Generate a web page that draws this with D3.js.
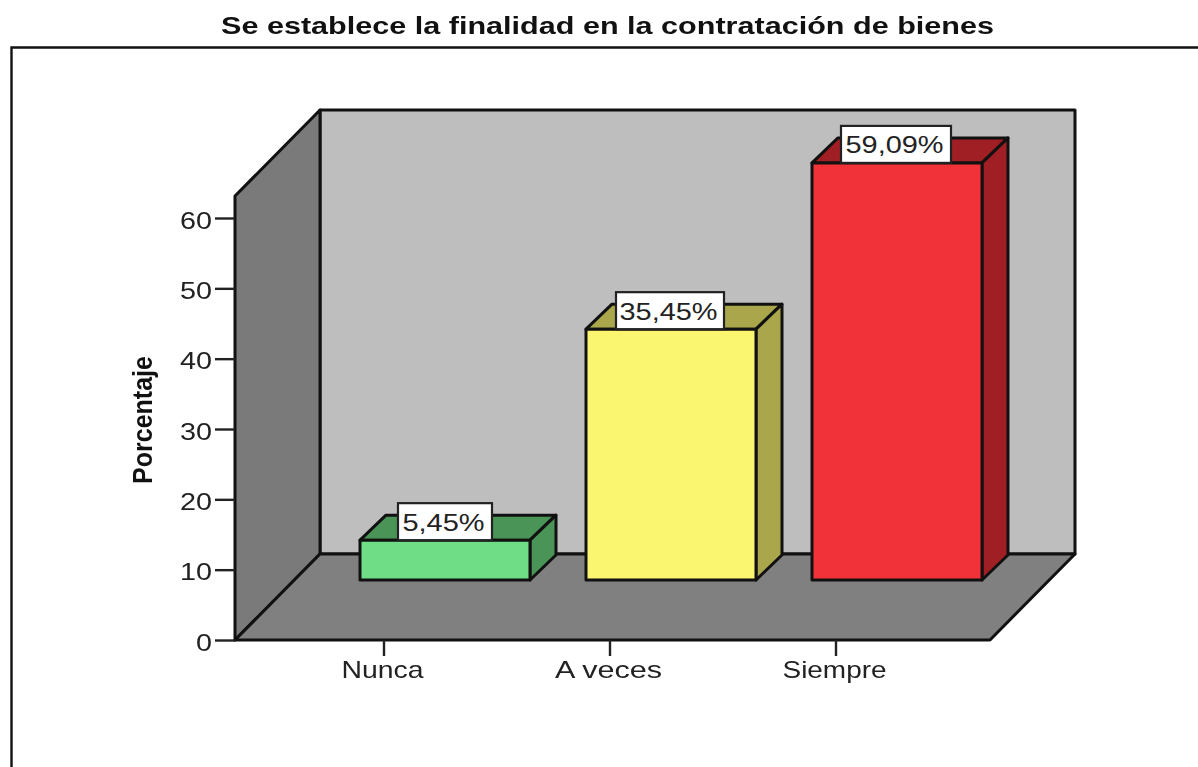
<!DOCTYPE html>
<html><head><meta charset="utf-8">
<script src="https://cdn.jsdelivr.net/npm/d3@7/dist/d3.min.js"></script>
<style>html,body{margin:0;padding:0;background:#fff;overflow:hidden}svg{display:block;filter:blur(0.5px)}text{font-family:"Liberation Sans",Arial,sans-serif;fill:#222}</style>
</head><body><svg id="c" width="1198" height="767"></svg>
<script>
const categories = ["Nunca","A veces","Siempre"];
const values = [5.45,35.45,59.09];
const valueLabels = ["5,45%","35,45%","59,09%"];
const frontColors = ["#6fdd85","#fbf66f","#f23239"];
const sideColors = ["#4a9458","#a9a64c","#a01f24"];
const yTicks = [0,10,20,30,40,50,60];
const titleText = "Se establece la finalidad en la contratación de bienes";
const yTitle = "Porcentaje";

const svg = d3.select("#c");
const fit = (sel, w) => sel.attr("textLength", w).attr("lengthAdjust", "spacingAndGlyphs");

// outer frame
svg.append("path").attr("d","M11.5,767V47.5H1198").attr("fill","none").attr("stroke","#111").attr("stroke-width",2.4);

fit(svg.append("text").attr("x",607.5).attr("y",34).attr("text-anchor","middle")
  .attr("font-size",24).attr("font-weight","bold").style("fill","#111").text(titleText),773);

const y = d3.scaleLinear().domain([0,60]).range([640,218]);
const x = d3.scaleBand().domain(categories).range([271,949]);
const wallL=235,wallR=990,dx=85,dy=86,wallT=196;
const lineSt = {stroke:"#111","stroke-width":3,"stroke-linejoin":"round"};
const poly=(pts,fill,st=lineSt)=>{const p=svg.append("polygon").attr("points",pts.map(d=>d.join(",")).join(" ")).attr("fill",fill);
  for(const k in st)p.attr(k,st[k]);return p;};

poly([[wallL+dx,wallT-dy],[wallR+dx,wallT-dy],[wallR+dx,y(0)-dy],[wallL+dx,y(0)-dy]],"#bebebe");
poly([[wallL,wallT],[wallL+dx,wallT-dy],[wallL+dx,y(0)-dy],[wallL,y(0)]],"#7a7a7a");
poly([[wallL,y(0)],[wallL+dx,y(0)-dy],[wallR+dx,y(0)-dy],[wallR,y(0)]],"#808080");

// axes
const gy = svg.append("g").attr("transform",`translate(${wallL},0)`)
  .call(d3.axisLeft(y).tickValues(yTicks).tickSize(20).tickPadding(3).tickFormat(d3.format("d")));
gy.select(".domain").remove();
gy.selectAll("line").attr("stroke","#222").attr("stroke-width",2.4);
gy.selectAll("text").attr("font-size",24).attr("font-family","Liberation Sans").attr("dy","0.42em");
fit(gy.selectAll("text").filter(d=>d>0),32);
gy.selectAll("text").filter(d=>d===0).attr("textLength",16).attr("lengthAdjust","spacingAndGlyphs");

const gx = svg.append("g").attr("transform",`translate(0,${y(0)})`)
  .call(d3.axisBottom(x).tickSize(16).tickPadding(3));
gx.select(".domain").remove();
gx.selectAll("line").attr("stroke","#222").attr("stroke-width",2.4);
gx.selectAll("text").attr("font-size",24).attr("font-family","Liberation Sans").attr("dy","0.79em").attr("dx",-1.5);
const xw = {"Nunca":82,"A veces":107,"Siempre":104};
gx.selectAll("text").each(function(d){fit(d3.select(this),xw[d]);});

// bars
const barW=170,barDx=26,barDy=25,offX=61,offY=60;
categories.forEach((c,i)=>{
  const cx=x(c)+x.bandwidth()/2+offX, l=cx-barW/2, r=cx+barW/2, b=y(0)-offY, t=y(values[i])-offY-1.5;
  poly([[l,t],[l+barDx,t-barDy],[r+barDx,t-barDy],[r,t]],sideColors[i]);
  poly([[r,t],[r+barDx,t-barDy],[r+barDx,b-barDy],[r,b]],sideColors[i]);
  poly([[l,t],[r,t],[r,b],[l,b]],frontColors[i]);
  const w=[94,108,110][i];
  svg.append("rect").attr("x",cx-w/2+(i===0?0:-1)).attr("y",t-37).attr("width",w).attr("height",37)
    .attr("fill","#fff").attr("stroke","#222").attr("stroke-width",2.2);
  fit(svg.append("text").attr("x",cx-1.5+(i===0?0:-1)).attr("y",t-9.5).attr("text-anchor","middle").attr("font-size",24).text(valueLabels[i]),[82,98,98][i]);
});

fit(svg.append("text").attr("transform","translate(152,420) rotate(-90)").attr("text-anchor","middle")
  .attr("font-size",27).attr("font-weight","bold").style("fill","#111").text(yTitle),128);
</script></body></html>
